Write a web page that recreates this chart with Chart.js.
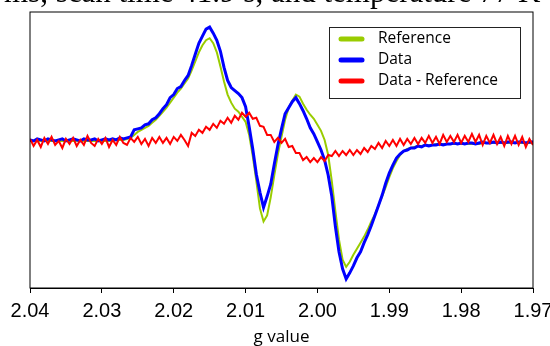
<!DOCTYPE html>
<html>
<head>
<meta charset="utf-8">
<script src="https://cdn.jsdelivr.net/npm/chart.js@4.4.0/dist/chart.umd.min.js"></script>
<style>
  body { margin: 0; background: #fff; }
  #wrap { position: relative; width: 550px; height: 346px; overflow: hidden; }
  #caption { position: absolute; left: 4px; top: -24px; font: 31px/31px "Liberation Serif", serif; white-space: nowrap; color: #000; }
</style>
</head>
<body>
<div id="wrap">
  <canvas id="myChart"></canvas>
  <div id="caption">ms, scan time 41.9 s, and temperature 77 K</div>
</div>
<script>
// g values (x axis), shared by all three traces
const gValues = [
  2.0400, 2.0395, 2.0390, 2.0385, 2.0380, 2.0375, 2.0370, 2.0365, 2.0360, 2.0355,
  2.0350, 2.0345, 2.0340, 2.0335, 2.0330, 2.0325, 2.0320, 2.0315, 2.0310, 2.0305,
  2.0300, 2.0295, 2.0290, 2.0285, 2.0280, 2.0275, 2.0270, 2.0265, 2.0260, 2.0255,
  2.0250, 2.0245, 2.0240, 2.0235, 2.0230, 2.0225, 2.0220, 2.0215, 2.0210, 2.0205,
  2.0200, 2.0195, 2.0190, 2.0185, 2.0180, 2.0175, 2.0170, 2.0165, 2.0160, 2.0155,
  2.0150, 2.0145, 2.0140, 2.0135, 2.0130, 2.0125, 2.0120, 2.0115, 2.0110, 2.0105,
  2.0100, 2.0095, 2.0090, 2.0085, 2.0080, 2.0075, 2.0070, 2.0065, 2.0060, 2.0055,
  2.0050, 2.0045, 2.0040, 2.0035, 2.0030, 2.0025, 2.0020, 2.0015, 2.0010, 2.0005,
  2.0000, 1.9995, 1.9990, 1.9985, 1.9980, 1.9975, 1.9970, 1.9965, 1.9960, 1.9955,
  1.9950, 1.9945, 1.9940, 1.9935, 1.9930, 1.9925, 1.9920, 1.9915, 1.9910, 1.9905,
  1.9900, 1.9895, 1.9890, 1.9885, 1.9880, 1.9875, 1.9870, 1.9865, 1.9860, 1.9855,
  1.9850, 1.9845, 1.9840, 1.9835, 1.9830, 1.9825, 1.9820, 1.9815, 1.9810, 1.9805,
  1.9800, 1.9795, 1.9790, 1.9785, 1.9780, 1.9775, 1.9770, 1.9765, 1.9760, 1.9755,
  1.9750, 1.9745, 1.9740, 1.9735, 1.9730, 1.9725, 1.9720, 1.9715, 1.9710, 1.9705,
  1.9700
];

// Reference spectrum (arbitrary units)
const referenceSignal = [
  0, 0, 0, 0, 0, 0, 0, 0, 0, 0,
  0, 0, 0, 0, 0, 0, 0, 0, 0, 0,
  0, 0, 0, 0, 1, 1, 1, 2, 3, 6,
  9, 11, 13, 15, 18, 21, 25, 29, 33, 38,
  43, 48, 52, 57, 62, 70, 79, 88, 95, 100,
  102, 97, 88, 74, 59, 46, 38, 32, 29, 24,
  19, 6, -15, -40, -67, -80, -74, -56, -34, -13,
  4, 21, 33, 40, 46, 44, 37, 31, 26, 22,
  16, 10, 1, -14, -40, -70, -98, -118, -125, -120,
  -113, -107, -101, -95, -88, -80, -73, -64, -55, -46,
  -36, -27, -20, -14, -10, -8, -7, -6, -5, -5,
  -4, -4, -4, -3, -3, -3, -3, -3, -3, -3,
  -3, -3, -3, -3, -3, -3, -2, -2, -2, -2,
  -2, -2, -2, -2, -2, -2, -2, -2, -2, -2,
  -2
];

// Measured spectrum
const dataSignal = [
  1, 0, 2, 1, 0, 2, 1, 0, 1, 2,
  0, 1, 2, 1, 0, 2, 1, 1, 2, 0,
  1, 2, 1, 2, 1, 3, 2, 3, 4, 11,
  12, 13, 16, 17, 21, 23, 27, 32, 36, 43,
  46, 52, 54, 60, 65, 75, 86, 97, 104, 111,
  113, 107, 100, 89, 73, 60, 53, 50, 47, 43,
  34, 14, -8, -33, -51, -66, -55, -43, -23, -4,
  12, 27, 33, 39, 43, 37, 30, 22, 13, 7,
  -1, -9, -19, -34, -55, -85, -110, -127, -137, -131,
  -124, -116, -110, -101, -93, -84, -74, -64, -54, -42,
  -32, -24, -17, -13, -10, -9, -7, -7, -5, -6,
  -4, -5, -4, -4, -3, -4, -3, -3, -2, -3,
  -2, -3, -2, -2, -3, -2, -1, -2, -2, -1,
  -2, -1, -2, -1, -1, -2, -1, -1, -2, -1,
  -1
];

// Data - Reference
const diffSignal = [
  2, -5, 1, -6, 3, -3, 4, -4, 0, -7,
  2, -3, 3, -5, 1, -4, 5, -2, -5, 2,
  -3, 3, -6, 1, -4, 4, -2, -4, 3, -1,
  4, -3, 2, -5, 3, -2, 4, -2, 3, -3,
  4, 0, 6, 1, -5, 8, 5, 11, 8, 14,
  11, 17, 13, 20, 17, 23, 18, 25, 21, 28,
  24, 28, 22, 23, 15, 14, 6, 6, -1, 3,
  -2, 2, -6, -5, -12, -12, -19, -16, -21, -17,
  -21, -16, -20, -14, -15, -10, -15, -10, -14, -9,
  -14, -9, -13, -7, -11, -5, -8, -2, -7, 0,
  -5, 1, -5, 2, -4, 2, -3, 3, -3, 3,
  -2, 5, -2, 4, -3, 6, -1, 5, -1, 6,
  -2, 5, -1, 7, -1, 6, -4, 5, -2, 6,
  -3, 4, -5, 5, -3, 5, -4, 4, -6, 2,
  -4
];

const seriesLabels = ['Reference', 'Data', 'Data - Reference'];
const xTickLabels = ['2.04', '2.03', '2.02', '2.01', '2.00', '1.99', '1.98', '1.97'];

function toPoints(ys) {
  return gValues.map((g, i) => ({ x: g, y: ys[i] }));
}

// box around the plot plus the legend drawn inside it
const frameAndLegend = {
  id: 'frameAndLegend',
  afterDatasetsDraw(chart) {
    const ctx = chart.ctx;
    const a = chart.chartArea;
    ctx.save();
    ctx.strokeStyle = '#000';
    ctx.lineWidth = 1;
    ctx.strokeRect(a.left, a.top, a.right - a.left, a.bottom - a.top);

    const bw = 191, bh = 71;
    const bx = a.right - 13 - bw, by = a.top + 15;
    ctx.fillStyle = '#fff';
    ctx.fillRect(bx, by, bw, bh);
    ctx.strokeStyle = '#222';
    ctx.strokeRect(bx + 0.5, by + 0.5, bw, bh);

    ctx.font = '15.5px "Open Sans"';
    ctx.textBaseline = 'middle';
    ctx.lineCap = 'round';
    chart.data.datasets.forEach((ds, i) => {
      const y = by + 12 + i * 21;
      ctx.strokeStyle = ds.borderColor;
      ctx.lineWidth = 5;
      ctx.beginPath();
      ctx.moveTo(bx + 12, y);
      ctx.lineTo(bx + 33, y);
      ctx.stroke();
      ctx.fillStyle = '#000';
      ctx.fillText(ds.label, bx + 49, y);
    });
    ctx.restore();
  }
};

const ctx = document.getElementById('myChart').getContext('2d');
const myChart = new Chart(ctx, {
  type: 'line',
  data: {
    datasets: [
      { label: seriesLabels[0], data: toPoints(referenceSignal), borderColor: '#99cc00', borderWidth: 2, order: 3 },
      { label: seriesLabels[1], data: toPoints(dataSignal), borderColor: '#0000ff', borderWidth: 3, order: 2 },
      { label: seriesLabels[2], data: toPoints(diffSignal), borderColor: '#ff0000', borderWidth: 2, order: 1 }
    ]
  },
  options: {
    responsive: true,
    maintainAspectRatio: false,
    animation: false,
    elements: { point: { radius: 0 }, line: { tension: 0 } },
    layout: { padding: { left: 30, right: 17, top: 12, bottom: 0 } },
    plugins: { legend: { display: false }, tooltip: { enabled: false } },
    scales: {
      x: {
        type: 'linear',
        reverse: true,
        min: 1.97,
        max: 2.04,
        afterFit(scale) { scale.paddingLeft = 0; scale.paddingRight = 0; },
        afterBuildTicks(scale) {
          scale.ticks = xTickLabels.map(t => ({ value: parseFloat(t) }));
        },
        ticks: {
          callback: (v) => Number(v).toFixed(2),
          font: { family: 'Liberation Sans', size: 20 },
          color: '#000',
          padding: 6,
          maxRotation: 0,
          autoSkip: false
        },
        grid: { drawOnChartArea: false, tickLength: 5, color: '#000' },
        border: { color: '#000', width: 1 },
        title: {
          display: true,
          text: 'g value',
          font: { family: 'Open Sans', size: 17, lineHeight: 1 },
          color: '#000',
          padding: { top: 0, bottom: 0 }
        }
      },
      y: { display: false, min: -146, max: 128 }
    }
  },
  plugins: [frameAndLegend]
});
</script>
</body>
</html>
